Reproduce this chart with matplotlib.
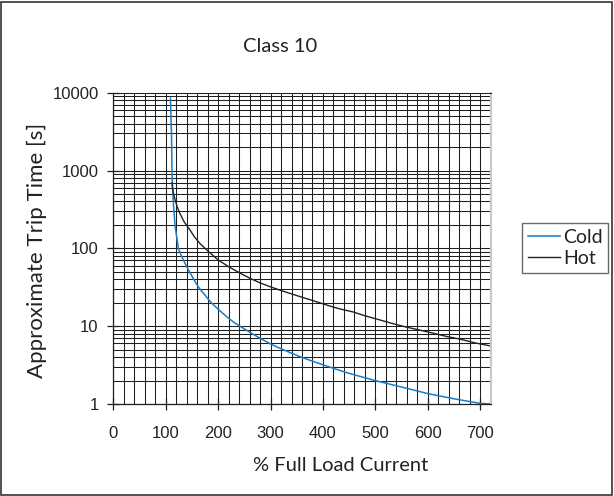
import matplotlib
matplotlib.use("Agg")
import matplotlib.pyplot as plt
from matplotlib.ticker import LogLocator, FixedLocator, NullFormatter
from matplotlib.patches import Rectangle

cold_x = [109, 111, 112, 113, 115, 118, 121, 124, 130, 140, 150, 162, 175, 185, 200,
          216, 230, 248, 265, 280, 300, 318, 340, 356, 380, 401, 425, 445, 470, 496,
          520, 547, 575, 598, 625, 649, 675, 700, 720]
cold_t = [8500, 3000, 1000, 600, 350, 190, 140, 100, 80, 58, 44, 32, 25, 20.7, 16.5,
          13.3, 11.2, 9.4, 8.0, 7.0, 5.9, 5.2, 4.5, 4.06, 3.55, 3.17, 2.8, 2.53, 2.27, 2.03,
          1.85, 1.67, 1.5, 1.37, 1.26, 1.17, 1.09, 1.02, 1.0]

hot_x = [112, 113, 115, 118, 122, 127, 135, 146, 155, 165, 175, 185, 200, 220, 242,
         260, 280, 300, 318, 340, 356, 380, 407, 430, 458, 480, 509, 535, 560, 585,
         611, 635, 662, 690, 720]
hot_t = [700, 600, 500, 420, 340, 282, 220, 173, 140, 116, 100, 87, 71, 58, 48,
         41.5, 36, 32, 29, 26, 24, 21.4, 18.7, 16.8, 15.2, 13.6, 12.0, 10.7, 9.7, 8.9,
         8.1, 7.4, 6.8, 6.1, 5.56]

x_ticks = [0, 100, 200, 300, 400, 500, 600, 700]
y_ticks = [1, 10, 100, 1000, 10000]
y_labels = ["1", "10", "100", "1000", "10000"]

W, H = 614, 496
fig = plt.figure(figsize=(W / 100, H / 100), dpi=100)
ax = fig.add_axes([113.3 / W, 1 - 404 / H, 377.4 / W, 311.3 / H])

grid_c = "#1e1e1e"
ax.set_yscale("log")
ax.set_xlim(0, 720)
ax.set_ylim(1, 10000)

ax.xaxis.set_major_locator(FixedLocator(x_ticks))
ax.xaxis.set_minor_locator(FixedLocator(range(20, 720, 20)))
ax.yaxis.set_major_locator(FixedLocator(y_ticks))
ax.yaxis.set_minor_locator(LogLocator(base=10, subs=range(2, 10)))
ax.yaxis.set_minor_formatter(NullFormatter())
ax.set_yticklabels(y_labels)

ax.grid(True, which="both", axis="both", color=grid_c, lw=0.75)
ax.set_axisbelow(True)

ax.plot(cold_x, cold_t, color="#1a7cc6", lw=1.1, label="Cold")
ax.plot(hot_x, hot_t, color="#222222", lw=1.0, label="Hot")

for s in ["left", "bottom"]:
    ax.spines[s].set_color(grid_c)
    ax.spines[s].set_linewidth(0.9)
ax.spines["top"].set_color(grid_c)
ax.spines["top"].set_linewidth(0.75)
ax.spines["right"].set_color("#c8c8c8")
ax.spines["right"].set_linewidth(1.5)

ax.tick_params(axis="both", which="major", direction="inout", length=9, width=0.9,
               color=grid_c, labelcolor="#222222")
ax.tick_params(axis="x", which="major", pad=11)
ax.tick_params(axis="y", which="major", pad=6)
ax.tick_params(axis="both", which="minor", length=0)
for lab in ax.get_xticklabels() + ax.get_yticklabels():
    lab.set_fontfamily("Liberation Sans")
    lab.set_fontsize(12)

lab_font = "Lato"
ax.set_xlabel("% Full Load Current", fontfamily=lab_font, fontsize=14.5, color="#222222",
              va="center")
ax.xaxis.set_label_coords((340.8 - 113.3) / 377.4, (404 - 465) / 311.3)
ax.set_ylabel("Approximate Trip Time [s]", fontfamily=lab_font, fontsize=16,
              color="#222222", va="center")
ax.yaxis.set_label_coords((37 - 113.3) / 377.4, (404 - 250) / 311.3)

fig.text(280.5 / W, 1 - 47 / H, "Class 10", ha="center", va="center",
         fontfamily=lab_font, fontsize=14.5, color="#222222")

leg = fig.legend(loc="center left", bbox_to_anchor=(522 / W, 1 - 248 / H),
                 prop={"family": lab_font, "size": 14}, frameon=True, fancybox=False,
                 handlelength=1.65, handletextpad=0.15, borderpad=0.3,
                 labelspacing=0.2, borderaxespad=0)
leg.get_frame().set_edgecolor("#444444")
leg.get_frame().set_linewidth(1.0)
for t in leg.get_texts():
    t.set_color("#222222")

fig.patches.append(Rectangle((1.5 / W, 1.5 / H), (W - 3.5) / W, (H - 3.5) / H,
                             transform=fig.transFigure, fill=False,
                             edgecolor="#333333", lw=1.2))

fig.savefig("out.png", dpi=100)
